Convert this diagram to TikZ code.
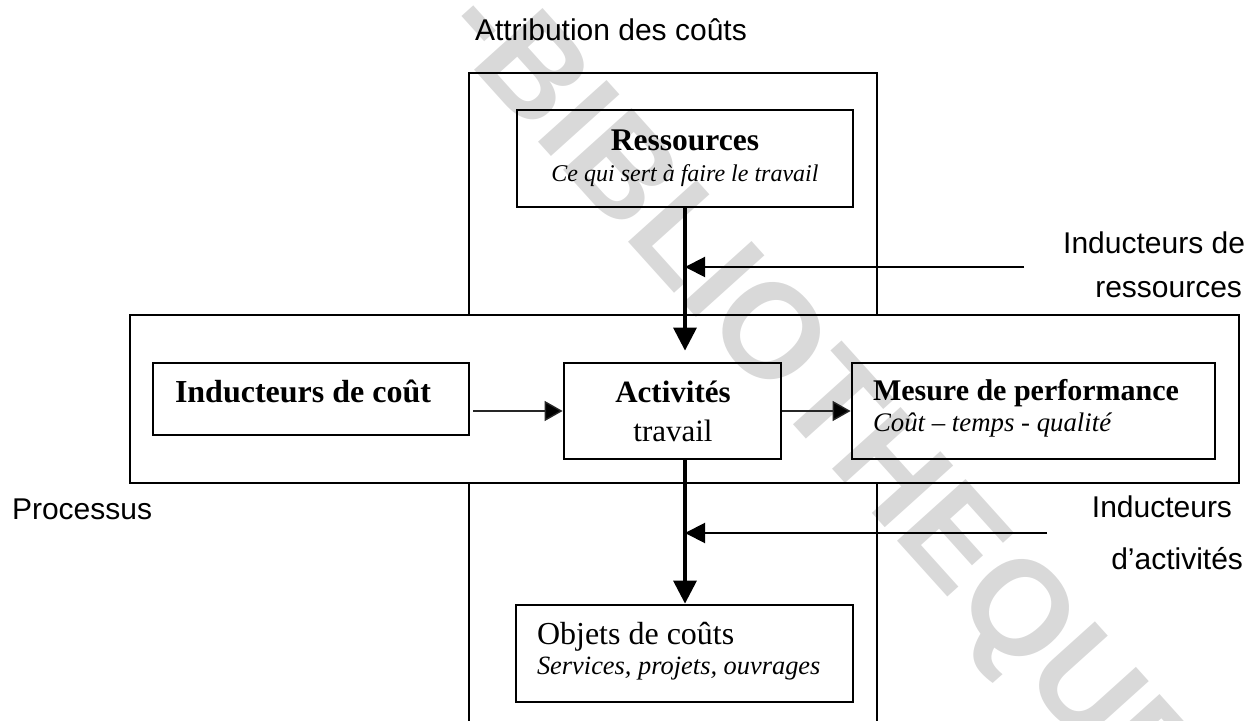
\documentclass[tikz,border=0pt]{standalone}
\usepackage{fontspec}
\setmainfont{Liberation Serif}
\newfontfamily\arialf{Liberation Sans}
\usetikzlibrary{arrows.meta}
\tikzset{
  frame/.style={draw, line width=1.1pt, inner sep=0pt},
  box/.style={draw, line width=1.4pt, inner sep=0pt, fill=none},
  txt/.style={inner sep=0pt, outer sep=0pt},
  lab/.style={txt, font=\arialf\fontsize{15}{18}\selectfont},
  mainline/.style={line width=1.7pt, -{Triangle[length=11.5pt,width=11.5pt]}},
  indarrow/.style={line width=1pt, -{Triangle[length=10pt,width=10pt]}},
  thinarrow/.style={line width=0.7pt, draw=black!85, -{Triangle[length=9pt,width=10pt,fill=black]}},
  wmark/.style={txt, text=black!15, font=\arialf\bfseries\fontsize{67}{67}\selectfont, rotate=-48}
}
\begin{document}
\begin{tikzpicture}[x=0.5pt,y=-0.5pt]
\useasboundingbox (0,0) rectangle (1250,721);
% watermark
\node[wmark] (wm) at (817,401) {-BIBLIOTHEQUE};
% frames
\node[frame, minimum width=554.5pt, minimum height=84pt] (proc) at (684.5,399) {};
\draw[line width=1.1pt] (469,315) -- (469,73) -- (877,73) -- (877,315);
\draw[line width=1.1pt] (469,483) -- (469,721);
\draw[line width=1.1pt] (877,483) -- (877,721);
% boxes
\node[box, minimum width=168pt, minimum height=48.5pt] (res) at (685,158.5) {};
\node[box, minimum width=158pt, minimum height=36pt] (idc) at (311,399) {};
\node[box, minimum width=108.5pt, minimum height=48pt] (act) at (672.5,411) {};
\node[box, minimum width=181.5pt, minimum height=48pt] (mes) at (1033.5,411) {};
\node[box, minimum width=168.5pt, minimum height=48.5pt] (obj) at (684.5,653.5) {};
% box texts
\node[txt, anchor=base, font=\bfseries\fontsize{15.75}{18}\selectfont] (resT) at (685,151) {Ressources};
\node[txt, anchor=base, font=\itshape\fontsize{12}{14}\selectfont] (resS) at (685,182) {Ce qui sert à faire le travail};
\node[txt, anchor=base west, font=\bfseries\fontsize{16}{18}\selectfont] (idcT) at (175,403) {Inducteurs de coût};
\node[txt, anchor=base, font=\bfseries\fontsize{15.5}{18}\selectfont] (actT) at (673,403) {Activités};
\node[txt, anchor=base, font=\fontsize{15.5}{18}\selectfont] (actS) at (673,442) {travail};
\node[txt, anchor=base west, font=\bfseries\fontsize{15}{18}\selectfont] (mesT) at (873,401) {Mesure de performance};
\node[txt, anchor=base west, font=\itshape\fontsize{13.4}{16}\selectfont] (mesS) at (873,432) {Coût – temps - qualité};
\node[txt, anchor=base west, font=\fontsize{16}{18}\selectfont] (objT) at (537,645) {Objets de coûts};
\node[txt, anchor=base west, font=\itshape\fontsize{13.2}{16}\selectfont] (objS) at (537,675) {Services, projets, ouvrages};
% outside labels
\node[lab, anchor=base west] (attr) at (475,41) {Attribution des coûts};
\node[lab, anchor=base east] (ir1) at (1245,254) {Inducteurs de};
\node[lab, anchor=base east] (ir2) at (1242,298) {ressources};
\node[lab, anchor=base west] (procL) at (12,520) {Processus};
\node[lab, anchor=base east] (ia1) at (1232,518) {Inducteurs};
\node[lab, anchor=base east] (ia2) at (1243,570) {d’activités};
% connectors
\coordinate (irs) at (1024,267);
\coordinate (ias) at (1047,533);
\draw[mainline] (res.south) -- ([yshift=5.5pt]act.north -| res.south);
\draw[mainline] (act.south -| res.south) -- (obj.north -| res.south);
\draw[indarrow] (irs) -- (irs -| res.south);
\draw[indarrow] (ias) -- (ias -| res.south);
\draw[thinarrow] ([xshift=1.5pt]idc.east |- act.west) -- (act.west);
\draw[thinarrow] (act.east) -- (mes.west);
\end{tikzpicture}
\end{document}
